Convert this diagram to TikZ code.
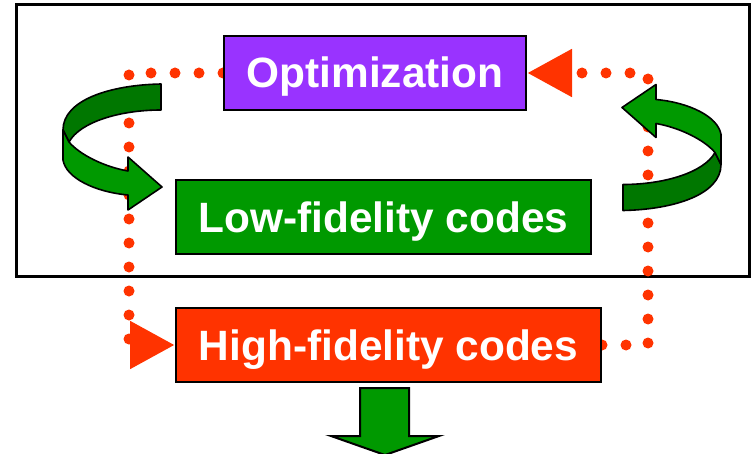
\documentclass[tikz,border=0pt]{standalone}
\usepackage{fontspec}
\setmainfont{Liberation Sans}
\usetikzlibrary{arrows.meta}

\definecolor{optpurple}{HTML}{9933FF}
\definecolor{codegreen}{HTML}{009900}
\definecolor{backgreen}{HTML}{007700}
\definecolor{hired}{HTML}{FF3300}

\pgfdeclarelayer{loops}
\pgfsetlayers{loops,main}

\tikzset{
  codebox/.style={draw=black, line width=2pt, minimum height=74pt,
    text=white, inner sep=0pt, text height=30pt, text depth=0pt,
    font=\fontsize{42.4}{50}\selectfont\bfseries},
  loopline/.style={draw=hired, line width=11pt, line cap=round,
    dash pattern=on 0pt off 24pt},
  looptip/.style={-{Triangle[length=45pt,width=45pt]}},
  curlline/.style={draw=black, line width=1.6pt, line join=round},
}

% curled arrow: dark back half on top, bright front half with head
\newcommand\curlshape{%
  \filldraw[fill=backgreen, curlline]
    (161,84) .. controls (110,85) and (63,100) .. (63,130)
    -- (69,142) .. controls (80,122) and (120,110) .. (161,110) -- cycle;
  \filldraw[fill=codegreen, curlline]
    (63,130) -- (63,160) .. controls (66,178) and (95,192) .. (128,195)
    -- (128,210) -- (162,187) -- (128,157) -- (128,171)
    .. controls (105,167) and (80,155) .. (69,142) -- cycle;
}

\begin{document}
\begin{tikzpicture}[x=1pt, y=-1pt]
\useasboundingbox (0,0) rectangle (751,454);

% boxes
\path
  node[codebox, fill=optpurple, minimum width=302pt] (opt) at (375,73) {Optimization}
  node[codebox, fill=codegreen, minimum width=415pt] (low) at (383.5,217) {Low-fidelity codes}
  node[codebox, fill=hired, minimum width=425pt] (high) at (388.5,345) {High-fidelity codes};

\coordinate (lc) at (129,345);
\coordinate (rc) at (648,345);

\begin{pgfonlayer}{loops}
  % outer frame
  \draw[line width=3pt] (16.5,4.5) rectangle (749.5,276.5);
  % dotted loops, passing under the boxes
  \draw[loopline, looptip, hired] (opt.west) -| (lc) -- (high.west);
  \draw[loopline, looptip, hired] (high.east) -- (rc) |- (opt.east);
\end{pgfonlayer}

% curled arrows
\curlshape
\begin{scope}[rotate around={180:(392,147.25)}]
  \curlshape
\end{scope}

% output arrow
\filldraw[fill=codegreen, draw=black, line width=2pt, line join=miter]
  (360,388) -- (409,388) -- (409,436) -- (439,436) -- (385,455)
  -- (331,436) -- (360,436) -- cycle;
\end{tikzpicture}
\end{document}
